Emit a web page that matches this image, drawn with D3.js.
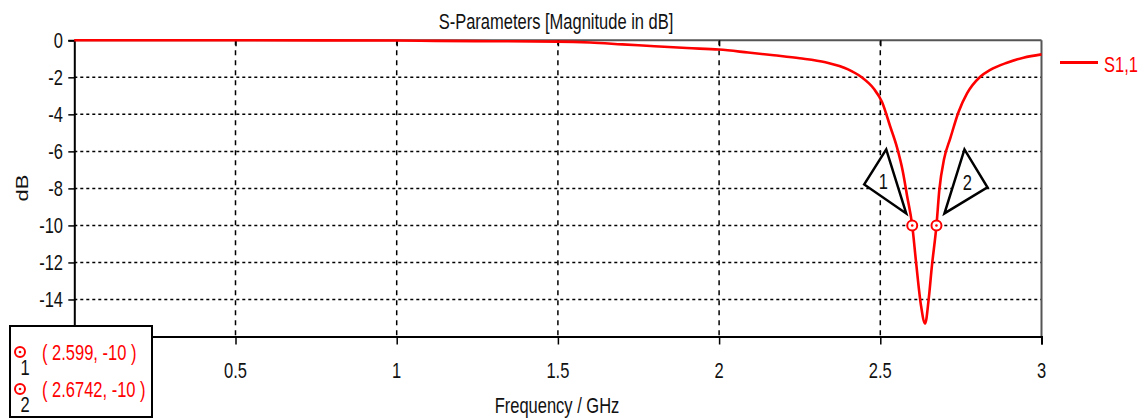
<!DOCTYPE html>
<html><head><meta charset="utf-8">
<script src="https://cdn.jsdelivr.net/npm/d3@7"></script>
<style>body{margin:0;background:#fff}svg{display:block}</style>
</head><body>
<svg id="c" width="1140" height="420"></svg>
<script>
const freqs = [0,0.5,1.0,1.12,1.3,1.5,1.6,1.7,1.8,1.9,2.0,2.09,2.17,2.25,2.33,2.40,2.44,2.48,2.505,2.531,2.552,2.57,2.583,2.599,2.611,2.626,2.639,2.65,2.66,2.6742,2.683,2.698,2.717,2.743,2.769,2.81,2.841,2.893,2.944,3.0];
const s11 = [0,0,-0.01,-0.03,-0.05,-0.07,-0.12,-0.22,-0.32,-0.42,-0.5,-0.66,-0.81,-0.97,-1.19,-1.57,-1.97,-2.62,-3.32,-4.67,-5.8,-7.1,-8.4,-10,-12.0,-14.3,-15.3,-14.0,-12.2,-10,-8.1,-6.4,-5.3,-3.86,-2.87,-1.97,-1.6,-1.21,-0.94,-0.76];
const xTicks = [0,0.5,1,1.5,2,2.5,3];
const xTickLabels = ["","0.5","1","1.5","2","2.5","3"];
const yTicks = [0,-2,-4,-6,-8,-10,-12,-14,-16];
const yTickLabels = ["0","-2","-4","-6","-8","-10","-12","-14",""];
const markerIds = ["1","2"];
const markerFreqs = [2.599, 2.6742];
const markerVals = [-10, -10];
const markerTexts = ["( 2.599, -10 )", "( 2.6742, -10 )"];
const seriesName = "S1,1";
const title = "S-Parameters [Magnitude in dB]";
const xTitle = "Frequency / GHz";
const yTitle = "dB";

const svg = d3.select("#c");
const L = 74.3, R = 1041.5, T = 40.3, B = 336.5;
const x = d3.scaleLinear().domain([0,3]).range([L,R]);
const y = d3.scaleLinear().domain([-16,0]).range([B,T]);
const FONT = "'Liberation Sans', Arial, sans-serif";
const SX = 0.75;
function txt(g, px, py, s, o={}) {
  return g.append("text")
    .attr("transform", `translate(${px},${py}) scale(${o.sx||SX},1)` + (o.rot?` rotate(${o.rot})`:""))
    .attr("text-anchor", o.anchor||"middle")
    .attr("font-family", FONT)
    .attr("font-size", o.size||22)
    .attr("fill", o.fill||"#111")
    .text(s);
}

// grid
const grid = svg.append("g");
grid.selectAll(".hg").data(yTicks.filter(v=>v!==0 && v!==-16)).join("line")
  .attr("x1", L).attr("x2", R).attr("y1", d=>y(d)).attr("y2", d=>y(d))
  .attr("stroke","#000").attr("stroke-width",1.5).attr("stroke-dasharray","3,3");
grid.selectAll(".vg").data(xTicks.filter(v=>v!==0 && v!==3)).join("line")
  .attr("x1", d=>x(d)).attr("x2", d=>x(d)).attr("y1", T).attr("y2", B)
  .attr("stroke","#000").attr("stroke-width",1.5).attr("stroke-dasharray","5,5");

// frame top/right
svg.append("line").attr("x1",L).attr("x2",R).attr("y1",T).attr("y2",T).attr("stroke","#555").attr("stroke-width",2);
svg.append("line").attr("x1",R).attr("x2",R).attr("y1",T).attr("y2",B).attr("stroke","#555").attr("stroke-width",2);

// axes ticks
const ya = svg.append("g").attr("transform",`translate(${L},0)`)
  .call(d3.axisLeft(y).tickValues(yTicks).tickSize(6).tickFormat(""));
ya.select(".domain").attr("stroke","#000").attr("stroke-width",2);
ya.selectAll(".tick line").attr("stroke","#000").attr("stroke-width",1.5);
const xa = svg.append("g").attr("transform",`translate(0,${B})`)
  .call(d3.axisBottom(x).tickValues(xTicks).tickSize(8).tickFormat(""));
xa.select(".domain").attr("stroke","#000").attr("stroke-width",2);
xa.selectAll(".tick line").attr("stroke","#000").attr("stroke-width",1.5);
const xt = svg.append("g").attr("transform",`translate(0,${T})`)
  .call(d3.axisBottom(x).tickValues(xTicks.slice(1,-1)).tickSize(6).tickFormat(""));
xt.select(".domain").remove();
xt.selectAll(".tick line").attr("stroke","#000").attr("stroke-width",1.5);

// tick labels
yTicks.forEach((v,i)=>{ if (yTickLabels[i]) txt(svg, 63, y(v)+8, yTickLabels[i], {anchor:"end"}); });
xTicks.forEach((v,i)=>{ if (xTickLabels[i]) txt(svg, x(v), 378, xTickLabels[i]); });

// titles
txt(svg, 556, 29, title);
txt(svg, 557, 413, xTitle);
txt(svg, 28, 188, yTitle, {rot:-90});

// curve
const line = d3.line().x(d=>x(d[0])).y(d=>y(d[1])).curve(d3.curveMonotoneX);
svg.append("path").datum(freqs.map((f,i)=>[f,s11[i]]))
  .attr("d", line).attr("fill","none").attr("stroke","#ff0000").attr("stroke-width",2.6);

// legend
svg.append("line").attr("x1",1060).attr("x2",1098).attr("y1",62.5).attr("y2",62.5).attr("stroke","#ff0000").attr("stroke-width",3);
txt(svg, 1104, 72, seriesName, {anchor:"start", fill:"#ff0000"});

// marker callouts
const tri = [
  {pts:[[-6,-12],[-26,-76],[-48,-41]], lab:[-29,-36]},
  {pts:[[8,-12],[28,-76],[51,-38]], lab:[31,-35]}
];
markerFreqs.forEach((f,i)=>{
  const mx = x(f), my = y(markerVals[i]);
  const t = tri[i];
  svg.append("polygon").attr("points", t.pts.map(p=>[mx+p[0],my+p[1]].join(",")).join(" "))
    .attr("fill","#fff").attr("stroke","#000").attr("stroke-width",2.5).attr("stroke-linejoin","miter");
  txt(svg, mx+t.lab[0], my+t.lab[1], markerIds[i], {fill:"#111"});
  svg.append("circle").attr("cx",mx).attr("cy",my).attr("r",5).attr("fill","#fff").attr("stroke","#ff0000").attr("stroke-width",2);
  svg.append("circle").attr("cx",mx).attr("cy",my).attr("r",1.3).attr("fill","#ff0000");
});

// marker info box
svg.append("rect").attr("x",10).attr("y",326).attr("width",142).attr("height",91)
  .attr("fill","#fff").attr("stroke","#000").attr("stroke-width",2);
markerTexts.forEach((s,i)=>{
  const cy = 352 + i*37;
  svg.append("circle").attr("cx",20).attr("cy",cy).attr("r",5).attr("fill","#fff").attr("stroke","#ff0000").attr("stroke-width",2);
  svg.append("circle").attr("cx",20).attr("cy",cy).attr("r",1.3).attr("fill","#ff0000");
  txt(svg, 25, cy+23, markerIds[i]);
  txt(svg, 42, cy+8, s, {anchor:"start", fill:"#ff0000"});
});
</script>
</body></html>
